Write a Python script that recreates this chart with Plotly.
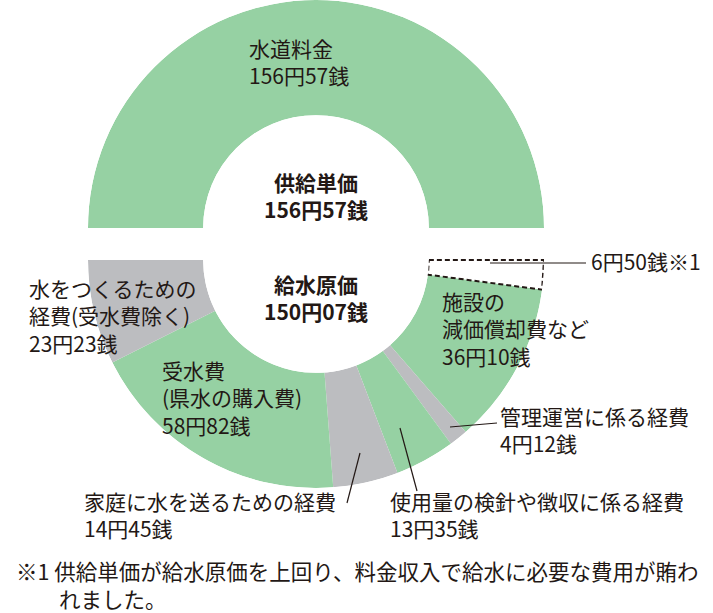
import plotly.graph_objects as go
import numpy as np

W, H = 713, 613

# ---- data ----
supply_label = "水道料金"
supply_value = 156.57  # 供給単価 (円)
cost_total = 150.07    # 給水原価 (円)
cost_labels = ["差額", "施設の減価償却費など", "管理運営に係る経費", "使用量の検針や徴収に係る経費",
               "家庭に水を送るための経費", "受水費(県水の購入費)", "水をつくるための経費(受水費除く)"]
cost_values = [6.50, 36.10, 4.12, 13.35, 14.45, 58.82, 23.23]
cost_colors = ["rgba(0,0,0,0)", "#96D1A3", "#BCBDC0", "#96D1A3", "#BCBDC0", "#96D1A3", "#BCBDC0"]

GREEN = "#96D1A3"
TEXT = "#231815"
FONT = "Noto Sans CJK JP"
HOLE = 0.495


def px(x, y):
    return x / W, 1 - y / H


fig = go.Figure()

# top half (supply price)
fig.add_trace(go.Barpolar(
    r=[1], theta=[supply_value / supply_value * 90], width=[180],
    marker=dict(color=GREEN, line=dict(width=0)),
    subplot="polar", hoverinfo="skip", showlegend=False))

# bottom half (cost breakdown + gap)
vals = np.array(cost_values)
widths = vals / vals.sum() * 180
centers = np.cumsum(widths) - widths / 2
fig.add_trace(go.Barpolar(
    r=[1] * len(vals), theta=centers, width=widths,
    marker=dict(color=cost_colors, line=dict(width=0)),
    subplot="polar2", hoverinfo="skip", showlegend=False))

# dashed outline for the gap (supply - cost)
gw = widths[0]
fig.add_trace(go.Scatterpolar(
    r=[0, 1, 1, 0, 0], theta=[0, 0, gw, gw, 0], mode="lines",
    line=dict(color=TEXT, width=2, dash="5px,3px"),
    subplot="polar2", hoverinfo="skip", showlegend=False))

# domains: top center (316,228), bottom center (316,260), radius 228
R = 228
cx, cyt, cyb = 316, 228, 260
x0, _ = px(cx - R, 0)
x1, _ = px(cx + R, 0)
_, yt1 = px(0, max(cyt - R, 0))
_, yt0 = px(0, cyt + R)
_, yb1 = px(0, cyb - R)
_, yb0 = px(0, cyb + R)

hidden_polar = dict(
    hole=HOLE, bgcolor="rgba(0,0,0,0)",
    radialaxis=dict(visible=False, range=[0, 1]),
)
fig.update_layout(
    polar=dict(domain=dict(x=[x0, x1], y=[yt0, min(yt1, 1)]),
               angularaxis=dict(visible=False, rotation=180, direction="clockwise"),
               **hidden_polar),
    polar2=dict(domain=dict(x=[x0, x1], y=[yb0, yb1]),
                angularaxis=dict(visible=False, rotation=0, direction="clockwise"),
                **hidden_polar),
)

annotations = []
DY = -5


def label(x, y, text, size=21, xanchor="left", weight=None):
    ax, ay = px(x, y + DY)
    annotations.append(dict(
        x=ax, y=ay, xref="paper", yref="paper", text=text, showarrow=False,
        xanchor=xanchor, yanchor="top", align=xanchor if xanchor != "center" else "center",
        font=dict(family=FONT, size=size, color=TEXT, weight=weight)))


label(247, 36, f"{supply_label}<br>156円57銭")
label(316, 170, "供給単価<br>156円57銭", xanchor="center", weight="bold")
label(316, 272, "給水原価<br>150円07銭", xanchor="center", weight="bold")
label(27, 276, "水をつくるための<br>経費(受水費除く)<br>23円23銭")
label(160, 358, "受水費<br>(県水の購入費)<br>58円82銭")
label(440, 289, "施設の<br>減価償却費など<br>36円10銭")
label(589, 249, "6円50銭※1")
label(498, 404, "管理運営に係る経費<br>4円12銭")
label(82, 489, "家庭に水を送るための経費<br>14円45銭")
label(388, 489, "使用量の検針や徴収に係る経費<br>13円35銭")
label(14, 558, "※1 供給単価が給水原価を上回り、料金収入で給水に必要な費用が賄わ<br>"
               "\u3000\u3000れました。", size=21.5)

shapes = []


def leader(xa, ya, xb, yb):
    p0 = px(xa, ya)
    p1 = px(xb, yb)
    shapes.append(dict(type="line", xref="paper", yref="paper",
                       x0=p0[0], y0=p0[1], x1=p1[0], y1=p1[1],
                       line=dict(color=TEXT, width=1.2)))


leader(490, 263, 586, 263)
leader(450, 427, 497, 423)
leader(400, 428, 417, 491)
leader(360, 453, 347, 503)

fig.update_layout(
    width=W, height=H, margin=dict(l=0, r=0, t=0, b=0),
    paper_bgcolor="white", plot_bgcolor="white",
    annotations=annotations, shapes=shapes, showlegend=False,
)

fig.write_html("out.html", config={"displayModeBar": False},
               post_script="document.body.style.margin='0';")
